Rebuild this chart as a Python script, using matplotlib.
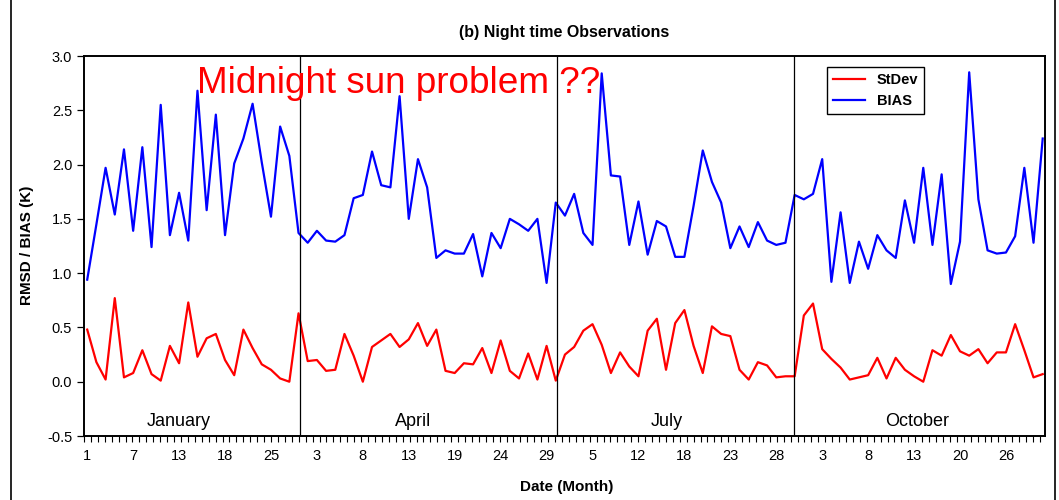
import matplotlib
matplotlib.use("Agg")
import matplotlib.pyplot as plt
from matplotlib.ticker import FixedLocator, MultipleLocator
from matplotlib.patches import Rectangle

plt.rcParams['font.family'] = ['Liberation Sans', 'DejaVu Sans']

# night time statistics, one value per observation (Jan, Apr, Jul, Oct)
bias = [0.94, 1.45, 1.97, 1.54, 2.14, 1.39, 2.16, 1.24, 2.55, 1.35,
        1.74, 1.30, 2.68, 1.58, 2.46, 1.35, 2.01, 2.24, 2.56, 2.02,
        1.52, 2.35, 2.08, 1.37,
        1.28, 1.39, 1.30, 1.29, 1.35, 1.69, 1.72, 2.12, 1.81, 1.79,
        2.63, 1.50, 2.05, 1.79, 1.14, 1.21, 1.18, 1.18, 1.36, 0.97,
        1.37, 1.23, 1.50, 1.45, 1.39, 1.50, 0.91, 1.65,
        1.53, 1.73, 1.37, 1.26, 2.84, 1.90, 1.89, 1.26, 1.66, 1.17,
        1.48, 1.43, 1.15, 1.15, 1.62, 2.13, 1.84, 1.65, 1.23, 1.43,
        1.24, 1.47, 1.30, 1.26, 1.28, 1.72,
        1.68, 1.73, 2.05, 0.92, 1.56, 0.91, 1.29, 1.04, 1.35, 1.21,
        1.14, 1.67, 1.28, 1.97, 1.26, 1.91, 0.90, 1.29, 2.85, 1.68,
        1.21, 1.18, 1.19, 1.34, 1.97, 1.28, 2.24]

stdev = [0.48, 0.18, 0.02, 0.77, 0.04, 0.08, 0.29, 0.07, 0.01, 0.33,
         0.17, 0.73, 0.23, 0.40, 0.44, 0.20, 0.06, 0.48, 0.31, 0.16,
         0.11, 0.03, 0.00, 0.63,
         0.19, 0.20, 0.10, 0.11, 0.44, 0.24, 0.00, 0.32, 0.38, 0.44,
         0.32, 0.39, 0.54, 0.33, 0.48, 0.10, 0.08, 0.17, 0.16, 0.31,
         0.08, 0.38, 0.10, 0.03, 0.26, 0.02, 0.33, 0.01,
         0.25, 0.32, 0.47, 0.53, 0.34, 0.08, 0.27, 0.14, 0.05, 0.47,
         0.58, 0.11, 0.54, 0.66, 0.33, 0.08, 0.51, 0.44, 0.42, 0.11,
         0.02, 0.18, 0.15, 0.04, 0.05, 0.05,
         0.61, 0.72, 0.30, 0.21, 0.13, 0.02, 0.04, 0.06, 0.22, 0.03,
         0.22, 0.11, 0.05, 0.00, 0.29, 0.24, 0.43, 0.28, 0.24, 0.30,
         0.17, 0.27, 0.27, 0.53, 0.29, 0.04, 0.07]

# day of month shown under every fifth observation
day_labels = ['1', '7', '13', '18', '25', '3', '8', '13', '19', '24', '29',
              '5', '12', '18', '23', '28', '3', '8', '13', '20', '26']
label_step = 5

months = ['January', 'April', 'July', 'October']
month_edges = [23.18, 51.14, 76.93]
month_centres = [10.0, 35.5, 63.1, 90.3]

x = list(range(len(bias)))

fig = plt.figure(figsize=(10.59, 5.0), dpi=100)
ax = fig.add_axes([84 / 1059, 64 / 500, 961 / 1059, 380 / 500])

ax.plot(x, stdev, color='#ff0000', lw=1.6, label='StDev')
ax.plot(x, bias, color='#0000ff', lw=1.6, label='BIAS')

for e in month_edges:
    ax.axvline(e, color='black', lw=0.9)

for name, c in zip(months, month_centres):
    ax.text(c, -0.37, name, ha='center', va='center', fontsize=13)

ax.text(12.0, 2.66, 'Midnight sun problem ??', color='#ff0000',
        fontsize=26.6, ha='left', va='baseline')

ax.set_xlim(-0.35, 104.25)
ax.set_ylim(-0.5, 3.0)
ax.yaxis.set_major_locator(MultipleLocator(0.5))
ax.yaxis.set_major_formatter(matplotlib.ticker.FormatStrFormatter('%.1f'))

ax.xaxis.set_major_locator(FixedLocator([i * label_step for i in range(len(day_labels))]))
ax.set_xticklabels(day_labels)
ax.xaxis.set_minor_locator(FixedLocator([-0.35 + 0.754 * k for k in range(140)]))
ax.tick_params(axis='x', which='major', length=0, pad=9, labelsize=10.5)
ax.tick_params(axis='x', which='minor', length=4, width=0.8, direction='out')
ax.tick_params(axis='y', which='major', length=5, width=0.9, labelsize=10.5)

for s in ax.spines.values():
    s.set_linewidth(1.4)

ax.set_xlabel('Date (Month)', fontsize=11, fontweight='bold')
ax.set_ylabel('RMSD / BIAS (K)', fontsize=11, fontweight='bold')
ax.xaxis.set_label_coords(0.502, -0.115)
ax.yaxis.set_label_coords(-0.052, 0.503)
ax.set_title('(b) Night time Observations', fontsize=11.5, fontweight='bold', pad=14)

leg = ax.legend(loc='upper left', bbox_to_anchor=(0.766, 0.99), fancybox=False,
                edgecolor='black', framealpha=1, prop={'weight': 'bold', 'size': 10.5},
                handlelength=2.2, borderpad=0.4, labelspacing=0.5)
leg.get_frame().set_linewidth(1.0)

# outer chart frame, cut off at top and bottom
fig.patches.append(Rectangle((11 / 1059, -0.05), 1044 / 1059, 1.1, transform=fig.transFigure,
                             fill=False, edgecolor='black', lw=1.2))

fig.savefig('out.png', dpi=100)
